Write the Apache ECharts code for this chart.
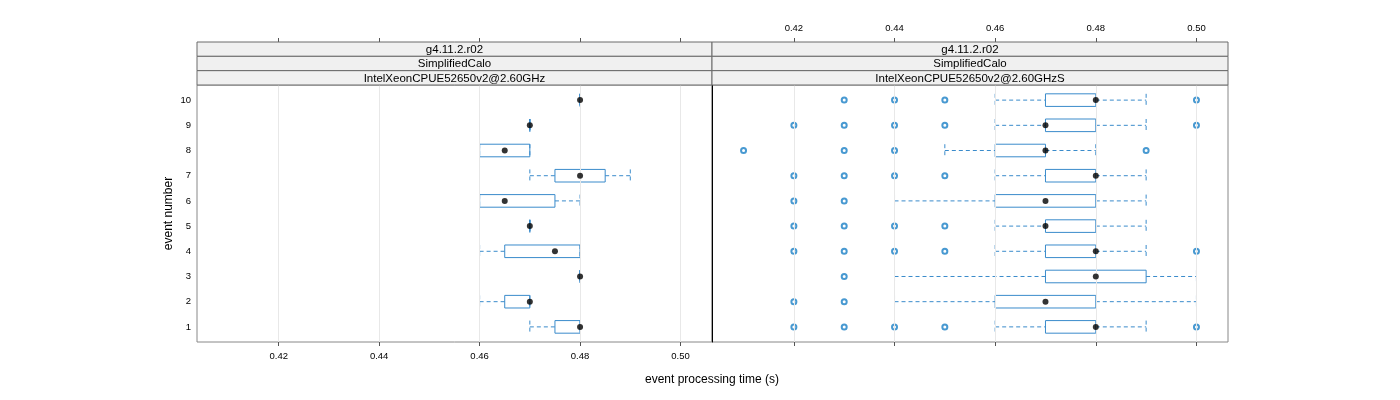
<!DOCTYPE html>
<html>
<head>
<meta charset="utf-8">
<script src="https://cdn.jsdelivr.net/npm/echarts@6/dist/echarts.min.js"></script>
<style>html,body{margin:0;padding:0;background:#fff}#c{width:1400px;height:400px}</style>
</head>
<body>
<div id="c"></div>
<script>
// ---- data ----
const events = [1, 2, 3, 4, 5, 6, 7, 8, 9, 10];
const xTicks = [0.42, 0.44, 0.46, 0.48, 0.50];
const yTicks = [1, 2, 3, 4, 5, 6, 7, 8, 9, 10];
const stripLeft = ["g4.11.2.r02", "SimplifiedCalo", "IntelXeonCPUE52650v2@2.60GHz"];
const stripRight = ["g4.11.2.r02", "SimplifiedCalo", "IntelXeonCPUE52650v2@2.60GHzS"];
// [lowWhisker, q1, median, q3, highWhisker] for events 1..10
const leftStats = [
  [0.47, 0.475, 0.48, 0.48, 0.48],
  [0.46, 0.465, 0.47, 0.47, 0.47],
  [0.48, 0.48, 0.48, 0.48, 0.48],
  [0.46, 0.465, 0.475, 0.48, 0.48],
  [0.47, 0.47, 0.47, 0.47, 0.47],
  [0.46, 0.46, 0.465, 0.475, 0.48],
  [0.47, 0.475, 0.48, 0.485, 0.49],
  [0.46, 0.46, 0.465, 0.47, 0.47],
  [0.47, 0.47, 0.47, 0.47, 0.47],
  [0.48, 0.48, 0.48, 0.48, 0.48]
];
const rightStats = [
  [0.46, 0.47, 0.48, 0.48, 0.49],
  [0.44, 0.46, 0.47, 0.48, 0.50],
  [0.44, 0.47, 0.48, 0.49, 0.50],
  [0.46, 0.47, 0.48, 0.48, 0.49],
  [0.46, 0.47, 0.47, 0.48, 0.49],
  [0.44, 0.46, 0.47, 0.48, 0.49],
  [0.46, 0.47, 0.48, 0.48, 0.49],
  [0.45, 0.46, 0.47, 0.47, 0.48],
  [0.46, 0.47, 0.47, 0.48, 0.49],
  [0.46, 0.47, 0.48, 0.48, 0.49]
];
const leftOutliers = [[], [], [], [], [], [], [], [], [], []];
const rightOutliers = [
  [0.42, 0.43, 0.44, 0.45, 0.50],
  [0.42, 0.43],
  [0.43],
  [0.42, 0.43, 0.44, 0.45, 0.50],
  [0.42, 0.43, 0.44, 0.45],
  [0.42, 0.43],
  [0.42, 0.43, 0.44, 0.45],
  [0.41, 0.43, 0.44, 0.49],
  [0.42, 0.43, 0.44, 0.45, 0.50],
  [0.43, 0.44, 0.45, 0.50]
];
const XMIN = 0.40373, XMAX = 0.50627;
const YMIN = 0.4, YMAX = 10.6;

// ---- styling / layout ----
const BLUE = '#3a8bcb';
const OUT_BLUE = '#1a7fc6';
const FONT = 'Liberation Sans, Arial, Helvetica, sans-serif';
const G = [{left: 197, width: 515}, {left: 712, width: 516}];
const TOP = 85, H = 257, STRIP_TOP = 42, STRIP_H = (TOP - STRIP_TOP) / 3;

function boxData(stats) {
  return stats.map((s, i) => [events[i], s[0], s[1], s[2], s[3], s[4]]);
}
function medData(stats) {
  return stats.map((s, i) => [s[2], events[i]]);
}
function outData(outs) {
  const r = [];
  outs.forEach((arr, i) => arr.forEach(v => r.push([v, events[i]])));
  return r;
}
function renderBox(params, api) {
  const y = api.value(0);
  const lo = api.value(1), q1 = api.value(2), q3 = api.value(4), hi = api.value(5);
  const pLo = api.coord([lo, y]), pQ1 = api.coord([q1, y]), pQ3 = api.coord([q3, y]), pHi = api.coord([hi, y]);
  const h = api.size([0, 0.5])[1];
  const dash = {stroke: BLUE, lineWidth: 1, lineDash: [4, 3], fill: null};
  const solid = {stroke: BLUE, lineWidth: 1, fill: null};
  const cy = pQ1[1];
  return {
    type: 'group',
    children: [
      {type: 'line', shape: {x1: pLo[0], y1: cy, x2: pQ1[0], y2: cy}, style: dash},
      {type: 'line', shape: {x1: pQ3[0], y1: cy, x2: pHi[0], y2: cy}, style: dash},
      {type: 'line', shape: {x1: pLo[0], y1: cy - h / 2, x2: pLo[0], y2: cy + h / 2}, style: dash},
      {type: 'line', shape: {x1: pHi[0], y1: cy - h / 2, x2: pHi[0], y2: cy + h / 2}, style: dash},
      {type: 'rect', shape: {x: pQ1[0], y: cy - h / 2, width: pQ3[0] - pQ1[0], height: h}, style: solid}
    ]
  };
}

function xAxisDef(gi, pos, labels) {
  return {
    gridIndex: gi, type: 'value', min: XMIN, max: XMAX, position: pos,
    offset: pos === 'top' ? (TOP - STRIP_TOP) : 0,
    axisLine: {show: false},
    axisTick: {show: true, customValues: xTicks, length: 4, lineStyle: {color: '#555', width: 1}},
    axisLabel: {show: labels, customValues: xTicks, formatter: v => v.toFixed(2), fontSize: 9.5, color: '#000', margin: 9, fontFamily: FONT},
    splitLine: {show: false}
  };
}

const series = [];
[[leftStats, leftOutliers], [rightStats, rightOutliers]].forEach((pair, gi) => {
  const xi = gi === 0 ? 0 : 2;
  series.push({
    type: 'scatter', xAxisIndex: xi, yAxisIndex: gi, data: [], z: 1, silent: true,
    markLine: {silent: true, symbol: 'none', label: {show: false}, animation: false,
      lineStyle: {color: '#e8e8e8', type: 'solid', width: 1},
      data: xTicks.map(v => ({xAxis: v}))}
  });
  series.push({
    type: 'custom', xAxisIndex: xi, yAxisIndex: gi, z: 3, silent: true,
    renderItem: renderBox, encode: {x: [1, 2, 3, 4, 5], y: 0},
    data: boxData(pair[0])
  });
  series.push({
    type: 'scatter', xAxisIndex: xi, yAxisIndex: gi, z: 4, silent: true,
    symbol: 'emptyCircle', symbolSize: 5,
    itemStyle: {color: OUT_BLUE, borderColor: OUT_BLUE, borderWidth: 1.1},
    data: outData(pair[1])
  });
  series.push({
    type: 'scatter', xAxisIndex: xi, yAxisIndex: gi, z: 5, silent: true,
    symbol: 'circle', symbolSize: 6,
    itemStyle: {color: '#000'},
    data: medData(pair[0])
  });
});

const graphics = [];
[stripLeft, stripRight].forEach((labels, gi) => {
  labels.forEach((t, i) => {
    graphics.push({
      type: 'rect', z: 10,
      shape: {x: G[gi].left, y: STRIP_TOP + i * STRIP_H, width: G[gi].width, height: STRIP_H},
      style: {fill: '#f0f0f0', stroke: '#6a6a6a', lineWidth: 1}
    });
    graphics.push({
      type: 'text', z: 11,
      x: G[gi].left + G[gi].width / 2, y: STRIP_TOP + i * STRIP_H + STRIP_H / 2 + 0.5,
      style: {text: t, fill: '#000', fontSize: 11.5, fontFamily: FONT, align: 'center', verticalAlign: 'middle'}
    });
  });
});
graphics.push({
  type: 'text', z: 11, x: 712, y: 380,
  style: {text: 'event processing time (s)', fill: '#000', fontSize: 12, fontFamily: FONT, align: 'center', verticalAlign: 'middle'}
});

const option = {
  animation: false,
  textStyle: {fontFamily: FONT},
  grid: [
    {left: G[0].left, top: TOP, width: G[0].width, height: H, show: true, borderColor: '#888', borderWidth: 1, backgroundColor: 'transparent'},
    {left: G[1].left, top: TOP, width: G[1].width, height: H, show: true, borderColor: '#888', borderWidth: 1, backgroundColor: 'transparent'}
  ],
  xAxis: [
    xAxisDef(0, 'bottom', true),
    xAxisDef(0, 'top', false),
    xAxisDef(1, 'top', true),
    xAxisDef(1, 'bottom', false)
  ],
  yAxis: [
    {gridIndex: 0, type: 'value', min: YMIN, max: YMAX,
      axisLine: {show: false}, axisTick: {show: false}, splitLine: {show: false},
      axisLabel: {customValues: yTicks, fontSize: 9.5, color: '#000', margin: 6, fontFamily: FONT},
      name: 'event number', nameLocation: 'middle', nameGap: 22, nameRotate: 90,
      nameTextStyle: {fontSize: 12, color: '#000', fontFamily: FONT}},
    {gridIndex: 1, type: 'value', min: YMIN, max: YMAX,
      axisLine: {show: true, lineStyle: {color: '#000', width: 1}}, axisTick: {show: false},
      splitLine: {show: false}, axisLabel: {show: false}}
  ],
  graphic: graphics,
  series: series
};
const chart = echarts.init(document.getElementById('c'), null, {renderer: 'canvas'});
chart.setOption(option);
</script>
</body>
</html>
